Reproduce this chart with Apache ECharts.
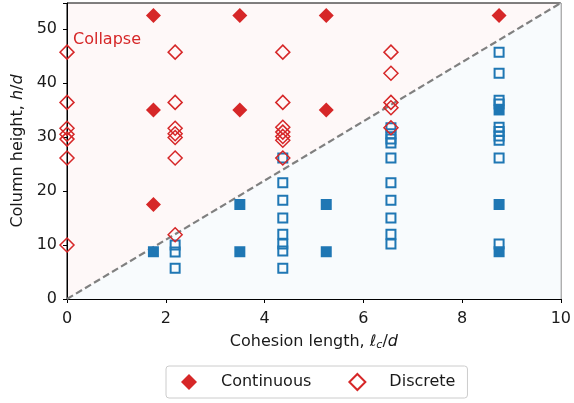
<!DOCTYPE html>
<html>
<head>
<meta charset="utf-8">
<script src="https://cdn.jsdelivr.net/npm/echarts@6/dist/echarts.min.js"></script>
<style>
  html, body { margin: 0; padding: 0; background: #fff; }
  #chart { width: 574px; height: 403px; }
</style>
</head>
<body>
<div id="chart"></div>
<script>
// collapse: continuous (filled diamond) and discrete (open diamond)
var collapseContinuous = [[1.75, 52.5], [1.75, 35], [1.75, 17.5], [3.5, 52.5], [3.5, 35],
    [5.25, 52.5], [5.25, 35], [8.75, 52.5]];
var collapseDiscrete = [
    [0, 45.7], [0, 36.4], [0, 31.6], [0, 30.5], [0, 29.6], [0, 26.1], [0, 10.0],
    [2.19, 45.7], [2.19, 36.4], [2.19, 31.6], [2.19, 30.6], [2.19, 29.9], [2.19, 26.1], [2.19, 11.9],
    [4.37, 45.7], [4.37, 36.4], [4.37, 31.8], [4.37, 30.9], [4.37, 30.1], [4.37, 29.4], [4.37, 26.1],
    [6.56, 45.7], [6.56, 41.8], [6.56, 36.4], [6.56, 35.4], [6.56, 31.7]
];
// stable: continuous (filled square) and discrete (open square)
var stableContinuous = [[1.75, 8.75], [3.5, 17.5], [3.5, 8.75], [5.25, 17.5], [5.25, 8.75],
    [8.75, 35], [8.75, 17.5], [8.75, 8.75]];
var stableDiscrete = [
    [2.19, 10.0], [2.19, 8.7], [2.19, 5.7],
    [4.37, 26.1], [4.37, 21.5], [4.37, 18.3], [4.37, 15.0], [4.37, 12.0], [4.37, 10.2], [4.37, 8.9], [4.37, 5.7],
    [6.56, 31.7], [6.56, 30.6], [6.56, 29.6], [6.56, 28.9], [6.56, 26.1], [6.56, 21.5], [6.56, 18.3],
    [6.56, 15.0], [6.56, 12.0], [6.56, 10.2],
    [8.75, 45.7], [8.75, 41.8], [8.75, 36.8], [8.75, 36.1], [8.75, 31.8], [8.75, 31.0], [8.75, 30.2],
    [8.75, 29.4], [8.75, 26.1], [8.75, 10.2]
];
// boundary h/d = slope * lc/d
var boundary = [[0, 0], [10, 54.8]];
var xTicks = [0, 2, 4, 6, 8, 10];
var yTicks = [0, 10, 20, 30, 40, 50];

var red = '#d62728', blue = '#1f77b4';
var font = 'DejaVu Sans';
var txt = '#1a1a1a';

var chart = echarts.init(document.getElementById('chart'));
chart.setOption({
    animation: false,
    textStyle: { fontFamily: font },
    grid: {
        left: 67, right: 10, top: 3, bottom: 104,
        show: true, backgroundColor: '#fef8f8', borderColor: '#000', borderWidth: 1
    },
    xAxis: {
        type: 'value', min: xTicks[0], max: xTicks[xTicks.length - 1], interval: 2,
        splitLine: { show: false },
        axisLine: { lineStyle: { color: '#000' } },
        axisTick: { length: 4, lineStyle: { color: '#000' } },
        axisLabel: { color: txt, fontSize: 16, margin: 12 },
        name: 'Cohesion length, {i|ℓ}{s|c}/{i|d}',
        nameLocation: 'middle', nameGap: 33,
        nameTextStyle: {
            color: txt, fontSize: 16,
            rich: {
                i: { fontStyle: 'italic', fontSize: 16, color: txt },
                s: { fontStyle: 'italic', fontSize: 11, color: txt, padding: [8, 0, 0, 0] }
            }
        }
    },
    yAxis: {
        type: 'value', min: 0, max: 54.8, interval: 10,
        splitLine: { show: false },
        axisLine: { show: true, lineStyle: { color: '#000' } },
        axisTick: { show: true, length: 4, lineStyle: { color: '#000' } },
        axisLabel: {
            color: txt, fontSize: 16, margin: 10,
            formatter: function (v) { return yTicks.indexOf(v) >= 0 ? v : ''; }
        },
        name: 'Column height, {i|h}/{i|d}',
        nameLocation: 'middle', nameGap: 41,
        nameTextStyle: {
            color: txt, fontSize: 16,
            rich: { i: { fontStyle: 'italic', fontSize: 16, color: txt } }
        }
    },
    legend: {
        data: [
            { name: 'Continuous', icon: 'diamond' },
            { name: 'Discrete', icon: 'diamond' }
        ],
        left: 166, top: 366, padding: [7, 12, 7, 15], itemGap: 37,
        itemWidth: 16, itemHeight: 16,
        borderColor: '#ccc', borderWidth: 1, borderRadius: 3,
        textStyle: { color: txt, fontSize: 16, padding: [0, 0, 0, 19] }
    },
    graphic: [
        { type: 'text', left: 73, top: 32, style: { text: 'Collapse', fill: red, fontSize: 16, fontFamily: font } },
        { type: 'text', left: 489, top: 276, style: { text: 'Stable', fill: blue, fontSize: 16, fontFamily: font } }
    ],
    series: [
        {
            name: 'boundary', type: 'line', data: boundary, showSymbol: false, z: 1,
            lineStyle: { color: '#808080', width: 2.2, type: [7, 3.5] },
            areaStyle: { color: '#f8fbfd', opacity: 1, origin: 'start' },
            silent: true
        },
        {
            name: 'Continuous', type: 'scatter', data: collapseContinuous, z: 5,
            symbol: 'diamond', symbolSize: 15,
            itemStyle: { color: red, opacity: 1 }
        },
        {
            name: 'Discrete', type: 'scatter', data: collapseDiscrete, z: 6,
            symbol: 'diamond', symbolSize: 14,
            itemStyle: { color: 'rgba(255,255,255,0)', borderColor: red, borderWidth: 1.5, opacity: 1 }
        },
        {
            name: 'stableContinuous', type: 'scatter', data: stableContinuous, z: 4,
            symbol: 'rect', symbolSize: 11,
            itemStyle: { color: blue, opacity: 1 }
        },
        {
            name: 'stableDiscrete', type: 'scatter', data: stableDiscrete, z: 3,
            symbol: 'rect', symbolSize: 9,
            itemStyle: { color: 'rgba(255,255,255,0)', borderColor: blue, borderWidth: 2, opacity: 1 }
        }
    ]
});
</script>
</body>
</html>
